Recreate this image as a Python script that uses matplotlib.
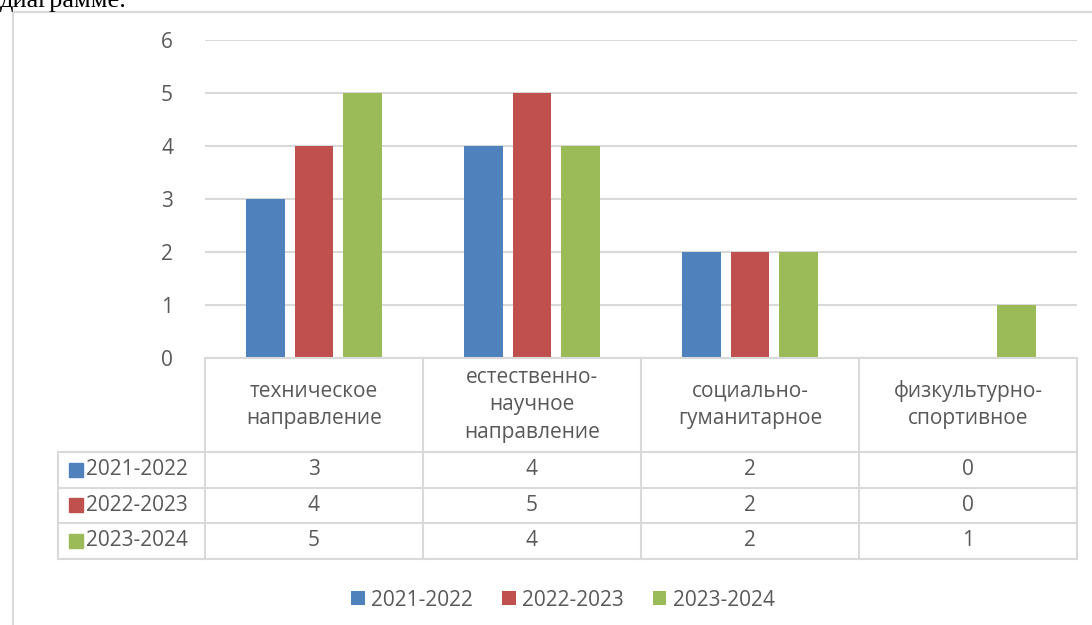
import matplotlib
matplotlib.use("Agg")
import matplotlib.pyplot as plt
import numpy as np
from matplotlib.transforms import blended_transform_factory
from matplotlib.patches import Rectangle
from matplotlib.lines import Line2D

categories = ["техническое\nнаправление", "естественно-\nнаучное\nнаправление",
              "социально-\nгуманитарное", "физкультурно-\nспортивное"]
series_names = ["2021-2022", "2022-2023", "2023-2024"]
values_2021 = [3, 4, 2, 0]
values_2022 = [4, 5, 2, 0]
values_2023 = [5, 4, 2, 1]
series_values = [values_2021, values_2022, values_2023]
colors = ["#4F81BD", "#C0504D", "#9BBB59"]
yticks = [0, 1, 2, 3, 4, 5, 6]

W, H = 1092, 625
FONT = ["Open Sans", "DejaVu Sans"]
TXT = "#595959"
GRID = "#d9d9d9"
FS = 15

plt.rcParams['font.family'] = FONT

def fx(px):
    return px / W

def fy(py):
    return 1 - py / H

fig = plt.figure(figsize=(W / 100, H / 100), dpi=100)
fig.patch.set_facecolor("white")

# left/top part of page
fig.text(fx(0), fy(7), "диаграмме.", family=["Liberation Serif"], fontsize=19,
         color="black", va="baseline", ha="left")
# chart frame
fig.add_artist(Line2D([fx(13), fx(13)], [fy(12), fy(630)], color=GRID, lw=1.5))
fig.add_artist(Line2D([fx(13), fx(1095)], [fy(12), fy(12)], color=GRID, lw=1.5))

left, right, top, bottom = 205, 1077, 40, 358
ax = fig.add_axes([fx(left), fy(bottom), fx(right) - fx(left), fy(top) - fy(bottom)])
ax.set_xlim(-0.5, len(categories) - 0.5)
ax.set_ylim(0, 6)

x = np.arange(len(categories))
bw = 0.178
off = 0.222
for i, (name, vals, c) in enumerate(zip(series_names, series_values, colors)):
    ax.bar(x + (i - 1) * off, vals, width=bw, color=c, zorder=3, label=name)

ax.set_yticks(yticks)
ax.set_yticklabels([str(t) for t in yticks], color=TXT, fontsize=FS)
ax.tick_params(axis='y', length=0, pad=23)
ax.set_xticks([])
ax.grid(axis='y', color=GRID, lw=1.5, zorder=0)
for s in ["top", "right", "left", "bottom"]:
    ax.spines[s].set_visible(False)

# data table
tr = blended_transform_factory(ax.transData, fig.transFigure)
row_lines = [358, 451.5, 487.5, 523, 559]
col_edges = np.arange(len(categories) + 1) - 0.5
tab_left_px = 58
lw = 1.5
fig.add_artist(Line2D([fx(left), fx(right)], [fy(358), fy(358)], color=GRID, lw=lw, zorder=4))
for yl in row_lines[1:]:
    fig.add_artist(Line2D([fx(tab_left_px), fx(right)], [fy(yl), fy(yl)], color=GRID, lw=lw))
for ce in col_edges:
    fig.add_artist(Line2D([ce, ce], [fy(358), fy(559)], color=GRID, lw=lw, transform=tr))
fig.add_artist(Line2D([fx(tab_left_px), fx(tab_left_px)], [fy(451.5), fy(559)], color=GRID, lw=lw))

for xi, cat in zip(x, categories):
    fig.text(xi, fy((358 + 451.5) / 2), cat, transform=tr, ha="center", va="center",
             color=TXT, fontsize=FS, linespacing=1.4)
for r, (name, vals, c) in enumerate(zip(series_names, series_values, colors)):
    yc = (row_lines[r + 1] + row_lines[r + 2]) / 2
    fig.add_artist(Rectangle((fx(69), fy(yc + 7)), fx(14), 14 / H, color=c))
    fig.text(fx(86), fy(yc), name, ha="left", va="center", color=TXT, fontsize=FS)
    for xi, v in zip(x, vals):
        fig.text(xi, fy(yc), str(v), transform=tr, ha="center", va="center",
                 color=TXT, fontsize=FS)

fig.legend(loc="center", bbox_to_anchor=(fx(563), fy(600)), ncol=3, frameon=False,
           fontsize=FS, labelcolor=TXT, handlelength=0.65, handleheight=0.65,
           handletextpad=0.3, columnspacing=1.4)

fig.savefig("out.png", dpi=100)
